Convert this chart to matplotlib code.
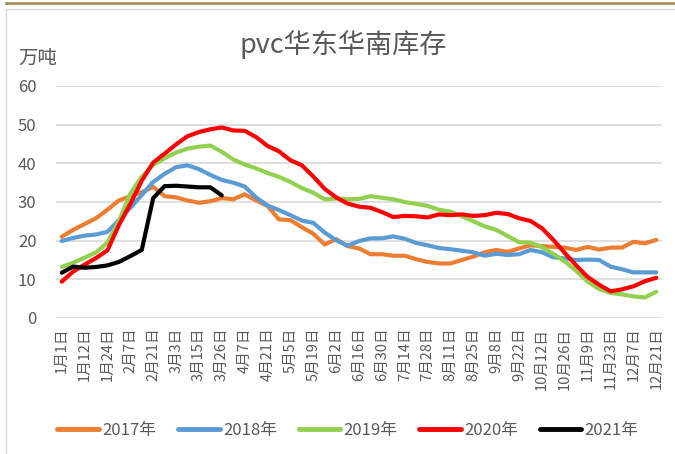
import matplotlib
matplotlib.use("Agg")
import matplotlib.pyplot as plt
from matplotlib.lines import Line2D

plt.rcParams['font.family'] = ['Noto Sans CJK SC', 'DejaVu Sans']

title = "pvc华东华南库存"
unit_label = "万吨"

tick_labels = ["1月1日", "1月12日", "1月24日", "2月7日", "2月21日", "3月3日", "3月15日",
               "3月26日", "4月7日", "4月21日", "5月5日", "5月19日", "6月2日", "6月16日",
               "6月30日", "7月14日", "7月28日", "8月11日", "8月25日", "9月8日", "9月22日",
               "10月12日", "10月26日", "11月9日", "11月23日", "12月7日", "12月21日"]

y2017 = [21.0, 22.8, 24.3, 25.8, 28.0, 30.4, 31.5, 32.5, 33.9, 31.5, 31.2, 30.4, 29.8, 30.2,
         31.0, 30.7, 32.0, 30.4, 29.0, 25.5, 25.3, 23.5, 21.8, 19.0, 20.4, 18.6, 18.0, 16.5,
         16.5, 16.1, 16.1, 15.2, 14.5, 14.1, 14.1, 15.0, 15.9, 17.0, 17.6, 17.1, 18.0, 18.8,
         18.6, 18.4, 18.2, 17.6, 18.4, 17.7, 18.2, 18.2, 19.7, 19.3, 20.2]
y2018 = [19.9, 20.7, 21.3, 21.6, 22.3, 25.3, 28.5, 31.8, 35.2, 37.3, 39.0, 39.5, 38.5, 37.0,
         35.7, 35.0, 34.0, 31.2, 29.1, 27.9, 26.6, 25.2, 24.6, 22.1, 20.1, 18.7, 19.9, 20.6,
         20.6, 21.1, 20.5, 19.4, 18.8, 18.1, 17.8, 17.4, 17.0, 16.1, 16.6, 16.3, 16.5, 17.6,
         17.0, 15.7, 15.4, 15.0, 15.1, 15.0, 13.3, 12.6, 11.8, 11.8, 11.8]
y2019 = [13.2, 14.3, 15.6, 17.0, 19.5, 25.0, 32.2, 36.5, 39.6, 41.3, 42.8, 43.8, 44.3, 44.6,
         43.0, 41.0, 39.7, 38.7, 37.5, 36.5, 35.2, 33.6, 32.4, 30.7, 30.9, 30.7, 30.8, 31.5,
         31.1, 30.7, 30.0, 29.5, 29.0, 28.0, 27.5, 26.3, 25.0, 23.7, 22.8, 21.2, 19.6, 19.5,
         18.3, 16.6, 14.6, 12.2, 9.4, 7.5, 6.5, 6.1, 5.6, 5.3, 6.8]
y2020 = [9.4, 12.0, 13.8, 15.5, 17.5, 24.0, 29.5, 35.5, 40.2, 42.5, 44.9, 47.0, 48.1, 48.8,
         49.3, 48.5, 48.4, 46.8, 44.5, 43.1, 40.8, 39.5, 36.6, 33.4, 31.2, 29.6, 28.8, 28.5,
         27.4, 26.1, 26.4, 26.3, 26.0, 26.8, 26.6, 26.8, 26.4, 26.6, 27.2, 26.9, 25.8, 25.1,
         23.2, 20.2, 16.8, 13.6, 10.6, 8.6, 6.9, 7.4, 8.2, 9.5, 10.4]
y2021 = [11.7, 13.3, 13.0, 13.2, 13.6, 14.5, 16.0, 17.6, 31.0, 34.1, 34.2, 34.0, 33.8, 33.8, 31.7]

series = [("2017年", y2017, "#ED7D31"),
          ("2018年", y2018, "#5B9BD5"),
          ("2019年", y2019, "#92D050"),
          ("2020年", y2020, "#FF0000"),
          ("2021年", y2021, "#000000")]

text_color = "#595959"
grid_color = "#d9d9d9"

fig = plt.figure(figsize=(6.75, 4.54), dpi=100)
ax = fig.add_axes([56 / 675, 1 - 318 / 454, 606 / 675, 232 / 454])

for name, vals, col in series:
    ax.plot(range(len(vals)), vals, color=col, lw=3.0, label=name,
            solid_joinstyle='round', solid_capstyle='round')

n = len(y2017)
ax.set_xlim(-0.5, n - 0.5)
ax.set_ylim(0, 60)
ax.set_yticks(range(0, 61, 10))
ax.set_xticks(range(0, n, 2))
ax.set_xticklabels(tick_labels, rotation=90, fontsize=10.5, color=text_color, va='top', ha='center')
ax.tick_params(axis='x', length=0, pad=7)
ax.tick_params(axis='y', length=0, pad=14, labelsize=12, labelcolor=text_color)
ax.yaxis.grid(True, color=grid_color, lw=1.2)
ax.set_axisbelow(True)
for s in ax.spines.values():
    s.set_visible(False)

fig.text(343 / 675, 1 - 45 / 454, title, fontsize=19.5, color=text_color, ha='center', va='center')
fig.text(18 / 675, 1 - 58 / 454, unit_label, fontsize=14, color=text_color, ha='left', va='center')

leg = fig.legend(loc='center', bbox_to_anchor=(348 / 675, 1 - 430 / 454), ncol=5, frameon=False,
                 fontsize=12, handlelength=2.5, handletextpad=0.2, columnspacing=1.3)
for t in leg.get_texts():
    t.set_color(text_color)
for h in leg.get_lines():
    h.set_linewidth(3.5)

# decorative frame
fig.add_artist(Line2D([6 / 675, 1], [1 - 3 / 454, 1 - 3 / 454], color="#a8915f", lw=2))
fig.add_artist(Line2D([6 / 675, 1], [1 - 9 / 454, 1 - 9 / 454], color="#d9d9d9", lw=1))
fig.add_artist(Line2D([6 / 675, 6 / 675], [0, 1 - 9 / 454], color="#d9d9d9", lw=1))

fig.savefig("out.png", dpi=100)
